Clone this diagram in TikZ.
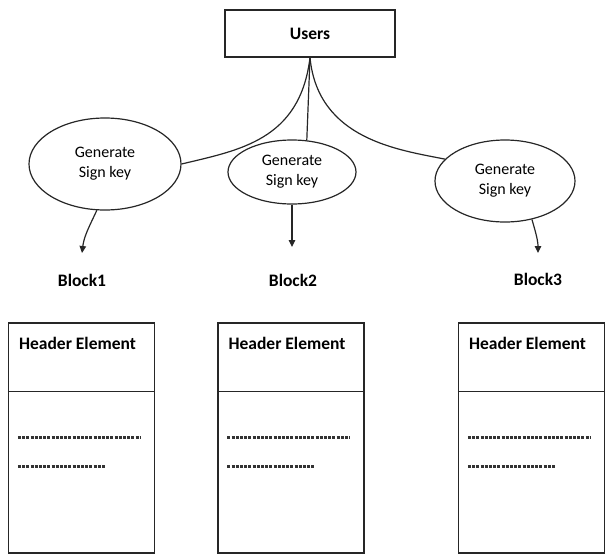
\documentclass[tikz,border=0pt]{standalone}
\usepackage{fontspec}
\setmainfont{Carlito}
\usetikzlibrary{shapes.geometric,arrows.meta}
\begin{document}
\begin{tikzpicture}[x=1pt,y=-1pt,
  ln/.style={line width=1.2pt,draw=black!85},
  ell/.style={ln,ellipse,inner sep=0pt,align=center,font=\fontsize{16}{19}\selectfont},
  lbl/.style={font=\bfseries\fontsize{17.5}{20}\selectfont},
  blk/.style={ln,rectangle,inner sep=0pt,minimum width=146pt,minimum height=230pt},
  arr/.style={ln,-{Triangle[length=7pt,width=6.5pt]}},
  dots/.style={line width=2.2pt,draw=black!80,dash pattern=on 3pt off 1.2pt}]
\useasboundingbox (0,0) rectangle (606,555);
\node[ln,rectangle,minimum width=170pt,minimum height=47pt,inner sep=0pt,lbl] (users) at (310,33.5) {Users};
\node[ell,minimum width=152pt,minimum height=92pt] (g1) at (105,164) {Generate\\[1pt]Sign key};
\node[ell,minimum width=128pt,minimum height=64pt] (g2) at (292,172) {Generate\\[1pt]Sign key};
\node[ell,minimum width=140pt,minimum height=82pt] (g3) at (505,181) {Generate\\[1pt]Sign key};
\draw[ln] (users.south) .. controls (300,140) and (240,150) .. (g1.east);
\draw[ln] (users.south) -- (g2.65);
\draw[ln] (users.south) .. controls (318,140) and (400,150) .. (g3.160);
\coordinate (t1) at (82,253);
\coordinate (t2) at (292,247);
\coordinate (t3) at (538,253);
\draw[arr] (g1.-100) .. controls (90,225) and (84,236) .. (t1);
\draw[arr] (g2.south) -- (t2);
\draw[arr] (g3.-55) .. controls (535,230) and (538,240) .. (t3);
\node[lbl] (b1) at (82,280) {Block1};
\node[lbl] (b2) at (293,280) {Block2};
\node[lbl] (b3) at (538,279) {Block3};
\foreach \n/\x in {1/81.5,2/291,3/531.5}{
  \node[blk] (box\n) at (\x,438) {};
  \draw[ln] ([yshift=-69pt]box\n.north west) -- ([yshift=-69pt]box\n.north east);
  \node[lbl,anchor=west,inner sep=0pt] (h\n) at ([xshift=11pt,yshift=-21pt]box\n.north west) {Header Element};
  \draw[dots] ([xshift=10pt,yshift=-115pt]box\n.north west) -- ++(122,0);
  \draw[dots] ([xshift=10pt,yshift=-144pt]box\n.north west) -- ++(87,0);
}
\end{tikzpicture}
\end{document}
